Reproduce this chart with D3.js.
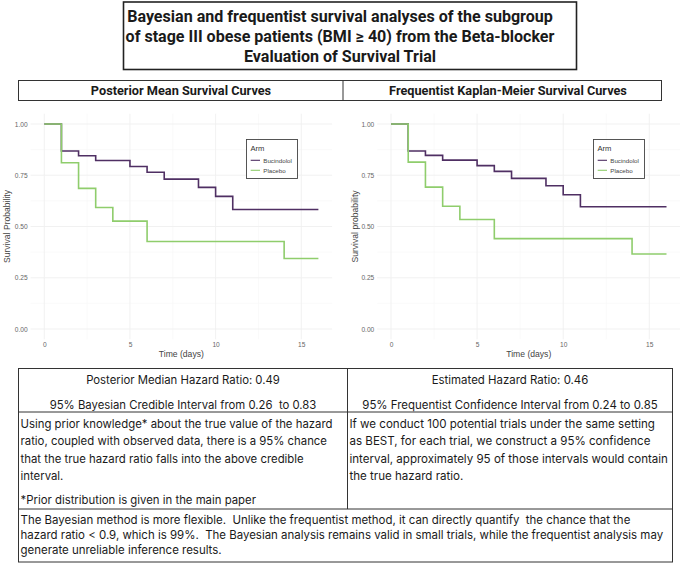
<!DOCTYPE html>
<html><head><meta charset="utf-8">
<script src="https://cdn.jsdelivr.net/npm/d3@7"></script>
<style>
html,body{margin:0;padding:0;background:#fff;}
svg{display:block;}
text{white-space:pre;}
</style></head>
<body>
<svg id="c" width="680" height="564"></svg>
<script>
// ---------------- DATA ----------------
const titleLines = [
  "Bayesian and frequentist survival analyses of the subgroup",
  "of stage III obese patients (BMI \u2265 40) from the Beta-blocker",
  "Evaluation of Survival Trial"
];
const panelTitles = ["Posterior Mean Survival Curves", "Frequentist Kaplan-Meier Survival Curves"];
const arms = ["Bucindolol", "Placebo"];
const endTime = 16;
const bucTimes = [0, 1, 2, 3, 5, 6, 7, 9, 10, 11];
const plaTimes = [0, 1, 2, 3, 4, 6, 14];
const bayesBuc = [1.00, 0.868, 0.845, 0.822, 0.793, 0.765, 0.731, 0.691, 0.647, 0.583];
const bayesPla = [1.00, 0.811, 0.686, 0.593, 0.526, 0.427, 0.344];
const kmBuc = [1.00, 0.868, 0.847, 0.824, 0.797, 0.769, 0.735, 0.699, 0.655, 0.596];
const kmPla = [1.00, 0.814, 0.692, 0.599, 0.534, 0.441, 0.366];
const xTicks = [0, 5, 10, 15];
const yTicks = [0, 0.25, 0.5, 0.75, 1];
const yLabels = ["Survival Probability", "Survival probability"];
const xLabel = "Time (days)";

const leftHead = ["Posterior Median Hazard Ratio: 0.49", "95% Bayesian Credible Interval from 0.26  to 0.83"];
const rightHead = ["Estimated Hazard Ratio: 0.46", "95% Frequentist Confidence Interval from 0.24 to 0.85"];
const leftPara = [
  "Using prior knowledge* about the true value of the hazard",
  "ratio, coupled with observed data, there is a 95% chance",
  "that the true hazard ratio falls into the above credible",
  "interval."
];
const leftNote = "*Prior distribution is given in the main paper";
const rightPara = [
  "If we conduct 100 potential trials under the same setting",
  "as BEST, for each trial, we construct a 95% confidence",
  "interval, approximately 95 of those intervals would contain",
  "the true hazard ratio."
];
const bottomPara = [
  "The Bayesian method is more flexible.  Unlike the frequentist method, it can directly quantify  the chance that the",
  "hazard ratio < 0.9, which is 99%.  The Bayesian analysis remains valid in small trials, while the frequentist analysis may",
  "generate unreliable inference results."
];

// ---------------- DRAW ----------------
const svg = d3.select("#c");
svg.append("rect").attr("width",680).attr("height",564).attr("fill","#fff");
const colBuc = "#4f2f63", colPla = "#8fcd6c";
const tableFont = "Inter, 'Open Sans', sans-serif";

function fitBlock(sel, refIndex, target){
  const n = sel.nodes()[refIndex];
  const len = n.getComputedTextLength();
  const fs = parseFloat(n.getAttribute("font-size"));
  sel.attr("font-size", fs * target / len);
}

// Title box
svg.append("rect").attr("x",123.5).attr("y",2).attr("width",453).attr("height",67.5)
  .attr("fill","none").attr("stroke","#222").attr("stroke-width",1.6);
const tl = svg.selectAll("text.title").data(titleLines).join("text")
  .attr("class","title").attr("x",340).attr("y",(d,i)=>21.5+i*20)
  .attr("text-anchor","middle").attr("font-family","Roboto, sans-serif")
  .attr("font-weight","bold").attr("font-size",15.5).attr("fill","#1a1a1a").text(d=>d);
fitBlock(tl, 0, 426);

// Header row
svg.append("rect").attr("x",18.5).attr("y",80.5).attr("width",643).attr("height",20)
  .attr("fill","none").attr("stroke","#333").attr("stroke-width",1);
svg.append("line").attr("x1",343).attr("x2",343).attr("y1",80.5).attr("y2",100.5)
  .attr("stroke","#333").attr("stroke-width",1);
const hd = svg.selectAll("text.head").data(panelTitles).join("text")
  .attr("class","head").attr("x",(d,i)=>i?508:181).attr("y",94.5)
  .attr("text-anchor","middle").attr("font-family","Roboto, sans-serif")
  .attr("font-weight","bold").attr("font-size",11).attr("fill","#1a1a1a").text(d=>d);
fitBlock(hd, 1, 238);

// Panels
const panels = [
  {x0:44.3, x16:318.4, buc:bayesBuc, pla:bayesPla, ylab:yLabels[0], ylabX:7, leg:246},
  {x0:391.0, x16:666.5, buc:kmBuc, pla:kmPla, ylab:yLabels[1], ylabX:355, leg:593}
];
const yS = d3.scaleLinear().domain([0,1]).range([329,124]);
panels.forEach(p=>{
  const xS = d3.scaleLinear().domain([0,16]).range([p.x0,p.x16]);
  const g = svg.append("g");
  const xl = xS(-0.8), xr = Math.min(xS(16.8), 680), yt = yS(1.05), yb = yS(-0.05);
  const minorX = [2.5,7.5,12.5], minorY=[0.125,0.375,0.625,0.875];
  g.selectAll("line.mx").data(minorX).join("line").attr("x1",d=>xS(d)).attr("x2",d=>xS(d))
    .attr("y1",yt).attr("y2",yb).attr("stroke","#f6f6f6").attr("stroke-width",0.6);
  g.selectAll("line.my").data(minorY).join("line").attr("y1",d=>yS(d)).attr("y2",d=>yS(d))
    .attr("x1",xl).attr("x2",xr).attr("stroke","#f6f6f6").attr("stroke-width",0.6);
  g.selectAll("line.gx").data(xTicks).join("line").attr("x1",d=>xS(d)).attr("x2",d=>xS(d))
    .attr("y1",yt).attr("y2",yb).attr("stroke","#efefef").attr("stroke-width",0.9);
  g.selectAll("line.gy").data(yTicks).join("line").attr("y1",d=>yS(d)).attr("y2",d=>yS(d))
    .attr("x1",xl).attr("x2",xr).attr("stroke","#efefef").attr("stroke-width",0.9);
  const ax = g.append("g").attr("transform",`translate(0,${yb})`)
    .call(d3.axisBottom(xS).tickValues(xTicks).tickSize(0).tickPadding(3.5));
  const ay = g.append("g").attr("transform",`translate(${xl},0)`)
    .call(d3.axisLeft(yS).tickValues(yTicks).tickFormat(d3.format(".2f")).tickSize(0).tickPadding(3));
  [ax,ay].forEach(a=>{
    a.select(".domain").remove();
    a.selectAll("text").attr("font-family","'Liberation Sans', Arial, sans-serif").attr("font-size",6.6).attr("fill","#666");
  });
  g.append("text").attr("x",(xS(0)+xS(16))/2).attr("y",356.5).attr("text-anchor","middle")
    .attr("font-family","'Liberation Sans', Arial, sans-serif").attr("font-size",8.6).attr("fill","#444").text(xLabel);
  g.append("text").attr("transform",`translate(${p.ylabX+3},${(yt+yb)/2}) rotate(-90)`).attr("text-anchor","middle")
    .attr("font-family","'Liberation Sans', Arial, sans-serif").attr("font-size",8.6).attr("fill","#444").text(p.ylab);
  const line = d3.line().x(d=>xS(d[0])).y(d=>yS(d[1])).curve(d3.curveStepAfter);
  const bucPts = bucTimes.map((t,i)=>[t,p.buc[i]]); bucPts.push([endTime,p.buc[p.buc.length-1]]);
  const plaPts = plaTimes.map((t,i)=>[t,p.pla[i]]); plaPts.push([endTime,p.pla[p.pla.length-1]]);
  g.append("path").attr("d",line(bucPts)).attr("fill","none").attr("stroke",colBuc).attr("stroke-width",1.6);
  g.append("path").attr("d",line(plaPts)).attr("fill","none").attr("stroke",colPla).attr("stroke-width",1.6);
  const lg = g.append("g").attr("transform",`translate(${p.leg},139)`);
  lg.append("rect").attr("x",0.5).attr("y",0.5).attr("width",51).attr("height",39)
    .attr("fill","#fff").attr("stroke","#444").attr("stroke-width",0.9);
  lg.append("text").attr("x",4.5).attr("y",11.5).attr("font-family","'Liberation Sans', Arial, sans-serif")
    .attr("font-size",7.6).attr("fill","#333").text("Arm");
  const items = lg.selectAll("g.it").data(arms).join("g").attr("transform",(d,i)=>`translate(0,${21.3+i*10})`);
  items.append("line").attr("x1",4.7).attr("x2",14).attr("stroke",(d,i)=>i?colPla:colBuc).attr("stroke-width",1.1);
  items.append("text").attr("x",17.3).attr("y",2.3).attr("font-family","'Liberation Sans', Arial, sans-serif")
    .attr("font-size",6.2).attr("fill","#444").text(d=>d);
});

// Table
const T = {l:18.5, r:672.5, t:368.5, m1:412, m2:509, b:562, mid:347.5};
const tg = svg.append("g").attr("stroke","#333").attr("stroke-width",1);
tg.append("rect").attr("x",T.l).attr("y",T.t).attr("width",T.r-T.l).attr("height",T.b-T.t).attr("fill","none");
tg.append("line").attr("x1",T.mid).attr("x2",T.mid).attr("y1",T.t).attr("y2",T.m2);
tg.append("line").attr("x1",T.l).attr("x2",T.r).attr("y1",T.m1).attr("y2",T.m1);
tg.append("line").attr("x1",T.l).attr("x2",T.r).attr("y1",T.m2).attr("y2",T.m2);

function txt(cls, data, xf, yf, anchor, fs){
  return svg.selectAll("text."+cls).data(data).join("text").attr("class",cls)
    .attr("x",xf).attr("y",yf).attr("text-anchor",anchor)
    .attr("font-family",tableFont).attr("font-size",fs).attr("fill","#1a1a1a").text(d=>d);
}
const lh = txt("lh", leftHead, (T.l+T.mid)/2, (d,i)=>383.5+i*25, "middle", 12.5);
fitBlock(lh, 1, 267);
const rh = txt("rh", rightHead, (T.mid+T.r)/2, (d,i)=>383.5+i*25, "middle", 12.5);
fitBlock(rh, 1, 295.6);
const lp = txt("lp", leftPara, 20.5, (d,i)=>427.5+i*17.5, "start", 12.5);
fitBlock(lp, 0, 312);
const ln = txt("ln", [leftNote], 20.5, 503.5, "start", 12.5);
ln.attr("font-size", lp.attr("font-size"));
const rp = txt("rp", rightPara, 349.5, (d,i)=>427.5+i*17.5, "start", 12.5);
fitBlock(rp, 2, 319);
const bp = txt("bp", bottomPara, 20.5, (d,i)=>524+i*15, "start", 11.5);
fitBlock(bp, 1, 643);
</script>
</body></html>
